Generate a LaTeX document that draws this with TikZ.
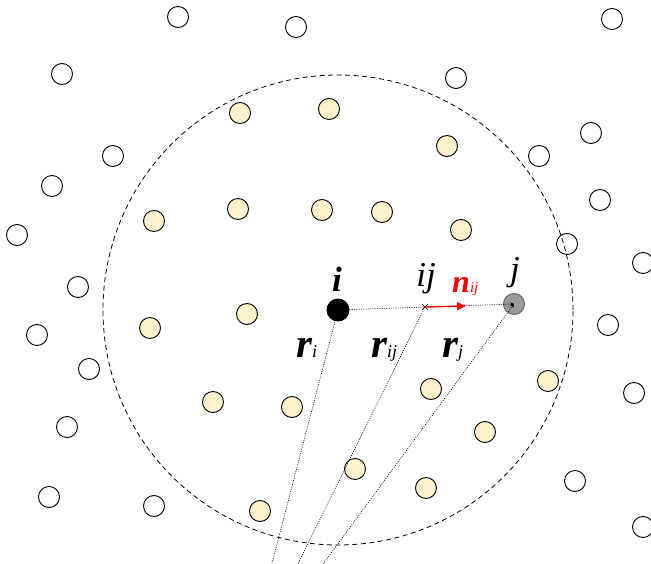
\documentclass[tikz,border=0pt]{standalone}
\usepackage{fontspec}
\setmainfont{Liberation Serif}
\usetikzlibrary{arrows.meta,shapes.misc}
\definecolor{nearfill}{HTML}{FFF2CC}
\definecolor{jfill}{HTML}{9A9A9A}
\definecolor{nred}{HTML}{FF0000}
\newcommand{\fs}[1]{\fontsize{#1}{#1}\selectfont}
\begin{document}
\begin{tikzpicture}[x=1pt,y=-1pt,
  particle/.style={circle,draw=black,line width=0.9pt,minimum size=21pt,inner sep=0pt},
  farp/.style={particle,fill=white},
  nearp/.style={particle,fill=nearfill},
  rline/.style={line width=0.6pt,dash pattern=on 1pt off 1.3pt},
  cutoff/.style={line width=0.8pt,dash pattern=on 5pt off 3.5pt},
  lbl/.style={inner sep=0pt,anchor=base},
]
\clip (0,0) rectangle (651,564);
\fill[white] (0,0) rectangle (651,564);

% particles outside the support domain
\foreach \x/\y [count=\k] in {178/17,296/27,612/19,62/74,456/78,113/156,52/186,
  591/133,539/156,600/200,17/235,567/244,643/263,78/287,37/335,608/325,89/369,
  634/393,67/427,575/481,49/497,154/506,643/527}
  \node[farp] (o\k) at (\x,\y) {};

% support domain of particle i
\node[circle,minimum size=470pt,inner sep=0pt,cutoff,draw] (dom) at (338,310) {};

% neighbouring particles
\foreach \x/\y [count=\k] in {240/113,329/109,447/146,154/221,238/209,322/210,
  382/212,461/230,150/328,247/314,213/402,292/407,431/389,548/381,485/432,
  355/469,426/488,260/511}
  \node[nearp] (n\k) at (\x,\y) {};

% particle i, particle j and the midpoint ij
\node[particle,fill=black,minimum size=22pt] (i) at (338,310) {};
\node[particle,fill=jfill,draw=black!60,minimum size=21pt] (j) at (514,304) {};
\node[cross out,draw=black,line width=0.7pt,minimum size=5pt,inner sep=0pt] (ij) at (425,307) {};

% origin-side ends of the position vectors
\coordinate (oi) at (265,590);
\coordinate (oij) at (285,590);
\coordinate (oj) at (304,590);

\draw[rline] (oi) -- (i);
\draw[rline] (oij) -- (ij.center);
\draw[rline,-{Stealth[length=4pt,width=3.5pt]}] (oj) -- (j.center);

% line from i to j with the unit vector n_ij
\draw[rline] (i) -- (ij.center);
\draw[rline,-{Stealth[length=4pt,width=3.5pt]}] (ij.center) -- (j.center);
\coordinate (ntip) at (466,306);
\draw[nred,line width=1.4pt,-{Triangle[length=9pt,width=8pt]}] (ij.center) -- (ntip);

% labels
\node[lbl] (li) at (337,291) {\fs{35}\bfseries\itshape i};
\node[lbl] (lij) at (426,287) {\fs{35}\itshape ij};
\node[lbl] (lj) at (515,280) {\fs{35}\itshape j};
\node[lbl,anchor=base west,text=nred] (ln) at (452,293) {\fs{32}\bfseries\itshape n\fs{15}\mdseries ij};
\node[lbl,anchor=base west] (lri) at (296,357) {\fs{41}\bfseries\itshape r\fs{18}\mdseries i};
\node[lbl,anchor=base west] (lrij) at (371,357) {\fs{41}\bfseries\itshape r\fs{18}\mdseries ij};
\node[lbl,anchor=base west] (lrj) at (442,357) {\fs{41}\bfseries\itshape r\fs{18}\mdseries j};
\end{tikzpicture}
\end{document}
